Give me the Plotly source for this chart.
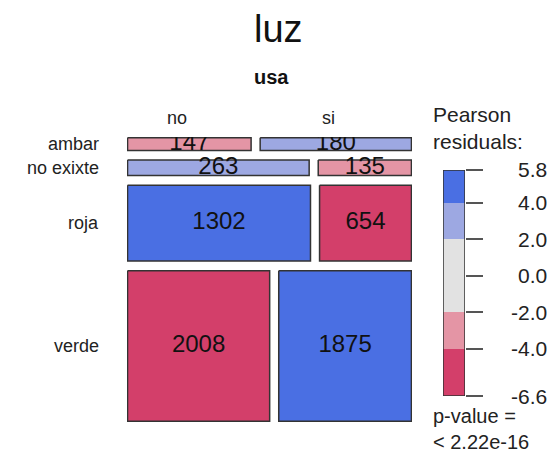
import numpy as np
import plotly.graph_objects as go

# ---- data ----
luz_levels = ["ambar", "no exixte", "roja", "verde"]
usa_levels = ["no", "si"]
counts_no = [147, 263, 1302, 2008]
counts_si = [180, 135, 654, 1875]
legend_ticks = [5.8, 4.0, 2.0, 0.0, -2.0, -4.0, -6.6]
shade_breaks = [5.8, 4.0, 2.0, -2.0, -4.0, -6.6]
shade_colors = ["#4A6FE3", "#9DA8E2", "#E2E2E2", "#E495A5", "#D33F6A"]
p_value_text = "< 2.22e-16"

OFF = 8  # page body margin
W, H = 560 - 2 * OFF, 463 - 2 * OFF
def px(x):
    return (x - OFF) / W
def py(y):
    return 1 - (y - OFF) / H

tab = np.array([counts_no, counts_si]).T.astype(float)  # rows luz, cols usa
total = tab.sum()
row_tot = tab.sum(axis=1)
col_tot = tab.sum(axis=0)
expected = np.outer(row_tot, col_tot) / total
resid = (tab - expected) / np.sqrt(expected)

def shade(r):
    if r > 4: return shade_colors[0]
    if r > 2: return shade_colors[1]
    if r > -2: return shade_colors[2]
    if r > -4: return shade_colors[3]
    return shade_colors[4]

gx = 0.033
gy = 0.038
fig = go.Figure()
font = "Liberation Sans, Arial"

row_h = row_tot / total
y_start = 0.0
row_centers = []
for i, lv in enumerate(luz_levels):
    y0 = y_start
    y1 = y0 + row_h[i]
    row_centers.append((y0 + y1) / 2)
    x_start = 0.0
    for j, uv in enumerate(usa_levels):
        w = tab[i, j] / row_tot[i]
        x0 = x_start
        x1 = x0 + w
        fig.add_trace(go.Scatter(
            x=[x0, x1, x1, x0, x0], y=[y0, y0, y1, y1, y0],
            mode="lines", fill="toself", fillcolor=shade(resid[i, j]),
            line=dict(color="#333333", width=1.5), hoverinfo="skip",
            showlegend=False, xaxis="x", yaxis="y"))
        fig.add_trace(go.Scatter(
            x=[(x0 + x1) / 2], y=[(y0 + y1) / 2], mode="text",
            text=[str(int(tab[i, j]))],
            textfont=dict(size=24, color="#111111", family=font),
            showlegend=False, hoverinfo="skip", xaxis="x", yaxis="y"))
        x_start = x1 + gx
    y_start = y1 + gy

# legend bar
bases = shade_breaks[1:]
lengths = [shade_breaks[k] - shade_breaks[k + 1] for k in range(len(shade_breaks) - 1)]
fig.add_trace(go.Bar(x=[0.5] * len(lengths), y=lengths, base=bases, width=1,
                     marker=dict(color=shade_colors, line=dict(width=0)),
                     xaxis="x2", yaxis="y2", showlegend=False, hoverinfo="skip"))
lo, hi = min(legend_ticks), max(legend_ticks)
fig.add_trace(go.Scatter(x=[0, 1, 1, 0, 0], y=[lo, lo, hi, hi, lo], mode="lines",
                         line=dict(color="#333333", width=1.5), xaxis="x2", yaxis="y2",
                         showlegend=False, hoverinfo="skip"))

ann = []
ann.append(dict(text="luz", x=px(278), y=py(29), xref="paper", yref="paper",
                xanchor="center", yanchor="middle",
                showarrow=False, font=dict(size=38, family=font, color="#111")))
ann.append(dict(text="<b>usa</b>", x=px(271), y=py(77), xref="paper", yref="paper",
                xanchor="center", yanchor="middle",
                showarrow=False, font=dict(size=20, family=font, color="#111")))
for lab, xc in zip(usa_levels, [177, 328]):
    ann.append(dict(text=lab, x=px(xc), y=py(118), xref="paper", yref="paper",
                    xanchor="center", yanchor="middle",
                    showarrow=False, font=dict(size=18, family=font, color="#222")))
for lab, yc in zip(luz_levels, row_centers):
    ann.append(dict(text=lab, x=px(101), y=yc, xref="paper", yref="y", xanchor="right",
                    yanchor="middle",
                    showarrow=False, font=dict(size=18, family=font, color="#222")))
for t in legend_ticks:
    ann.append(dict(text=f"{t:.1f}", x=px(549), y=t, xref="paper", yref="y2",
                    xanchor="right", yanchor="middle", showarrow=False,
                    font=dict(size=21, family=font, color="#222")))
ann.append(dict(text="Pearson<br>residuals:", x=px(431), y=py(101), xref="paper", yref="paper",
                xanchor="left", yanchor="top", align="left", showarrow=False,
                font=dict(size=21, family=font, color="#222")))
ann.append(dict(text="p-value =<br>" + p_value_text, x=px(431), y=py(455), xref="paper",
                yref="paper", xanchor="left", yanchor="bottom", align="left", showarrow=False,
                font=dict(size=20, family=font, color="#222")))

hidden = dict(showgrid=False, zeroline=False, showticklabels=False, ticks="", showline=False)
fig.update_layout(
    width=W, height=H, margin=dict(l=0, r=0, t=0, b=0),
    paper_bgcolor="white", plot_bgcolor="white",
    xaxis=dict(domain=[px(127), px(412)], range=[-0.002, 1 + gx + 0.002], **hidden),
    yaxis=dict(domain=[py(422), py(137)], range=[1 + 3 * gy + 0.003, -0.003], **hidden),
    xaxis2=dict(domain=[px(443), px(465)], range=[0, 1], anchor="y2", **hidden),
    yaxis2=dict(domain=[py(396), py(170)], range=[lo, hi], anchor="x2", side="right",
                showgrid=False, zeroline=False, showticklabels=False, showline=False,
                ticks="outside", ticklen=17, tickwidth=2, tickcolor="#555",
                tickvals=legend_ticks),
    annotations=ann, bargap=0,
)
fig.write_html("out.html")
